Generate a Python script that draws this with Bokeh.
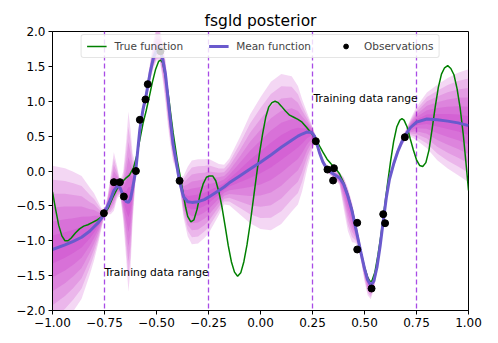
from bokeh.plotting import figure
from bokeh.models import Span, FixedTicker, CustomJSTickFormatter, Range1d
from bokeh.core.properties import value
from bokeh.embed import file_html
from bokeh.resources import INLINE
import numpy as np

# ---------------- data ----------------
obs_x = [-0.753, -0.705, -0.676, -0.657, -0.599, -0.580, -0.553, -0.542, -0.481, -0.389,
         0.266, 0.322, 0.353, 0.349, 0.465, 0.465, 0.534, 0.590, 0.599, 0.694]
obs_y = [-0.605, -0.16, -0.16, -0.366, 0.0, 0.734, 1.025, 1.245, 1.718, -0.141,
         0.427, 0.021, 0.04, -0.136, -0.743, -1.125, -1.685, -0.619, -0.748, 0.485]

true_x = [-1.00, -0.985, -0.97, -0.955, -0.94, -0.925, -0.91, -0.89, -0.87, -0.85, -0.83, -0.81,
          -0.79, -0.77, -0.75, -0.73, -0.71, -0.69, -0.67, -0.65, -0.63, -0.61, -0.595, -0.58,
          -0.565, -0.55, -0.535, -0.52, -0.505, -0.49, -0.48, -0.47, -0.46, -0.45, -0.44, -0.43,
          -0.42, -0.41, -0.40, -0.385, -0.37, -0.36, -0.35, -0.335, -0.32, -0.305, -0.29, -0.275,
          -0.26, -0.245, -0.23, -0.215, -0.20, -0.185, -0.17, -0.155, -0.14, -0.125, -0.11, -0.095,
          -0.08, -0.065, -0.05, -0.035, -0.02, -0.005, 0.01, 0.025, 0.04, 0.055, 0.07, 0.085,
          0.10, 0.12, 0.14, 0.16, 0.18, 0.20, 0.22, 0.24, 0.26, 0.28, 0.30, 0.32, 0.34, 0.36,
          0.38, 0.40, 0.42, 0.44, 0.455, 0.47, 0.485, 0.50, 0.515, 0.525, 0.535, 0.55, 0.565,
          0.58, 0.595, 0.61, 0.625, 0.64, 0.655, 0.67, 0.68, 0.69, 0.705, 0.72, 0.735, 0.75,
          0.765, 0.78, 0.795, 0.81, 0.825, 0.84, 0.855, 0.87, 0.885, 0.90, 0.915, 0.93, 0.945,
          0.96, 0.975, 0.99, 1.00]
true_y = [-0.30, -0.55, -0.78, -0.93, -1.00, -1.00, -0.96, -0.89, -0.83, -0.79, -0.77, -0.74,
          -0.71, -0.67, -0.62, -0.52, -0.38, -0.26, -0.17, -0.11, -0.06, 0.05, 0.22, 0.45,
          0.68, 0.86, 1.06, 1.27, 1.45, 1.57, 1.59, 1.55, 1.40, 1.22, 1.02, 0.78,
          0.55, 0.35, 0.15, -0.09, -0.35, -0.52, -0.65, -0.73, -0.70, -0.55, -0.33, -0.18,
          -0.09, -0.07, -0.07, -0.14, -0.30, -0.52, -0.79, -1.07, -1.30, -1.45, -1.51, -1.46,
          -1.30, -1.06, -0.76, -0.42, -0.08, 0.25, 0.53, 0.77, 0.92, 0.98, 1.00, 0.98,
          0.93, 0.86, 0.80, 0.77, 0.74, 0.70, 0.63, 0.56, 0.48, 0.38, 0.27, 0.17, 0.10, 0.04,
          -0.04, -0.17, -0.34, -0.55, -0.76, -0.98, -1.20, -1.38, -1.52, -1.58, -1.58, -1.45, -1.20,
          -0.90, -0.55, -0.20, 0.13, 0.42, 0.63, 0.73, 0.75, 0.73, 0.63, 0.46, 0.30, 0.16,
          0.08, 0.065, 0.12, 0.30, 0.60, 0.92, 1.20, 1.39, 1.48, 1.51, 1.47, 1.38, 1.18,
          0.90, 0.52, 0.05, -0.28]

mean_x = [-1.00, -0.94, -0.90, -0.86, -0.82, -0.80, -0.78, -0.765, -0.75, -0.735, -0.72, -0.705,
          -0.69, -0.675, -0.66, -0.645, -0.635, -0.625, -0.615, -0.60, -0.59, -0.58, -0.565, -0.55,
          -0.53, -0.515, -0.50, -0.485, -0.47, -0.457, -0.445, -0.433, -0.42, -0.409, -0.39, -0.37,
          -0.35, -0.33, -0.30, -0.27, -0.25, -0.20, -0.175, -0.15, -0.10, -0.05, 0.00, 0.05,
          0.10, 0.15, 0.18, 0.20, 0.225, 0.245, 0.26, 0.27, 0.285, 0.30, 0.32, 0.34, 0.36,
          0.38, 0.40, 0.42, 0.44, 0.455, 0.47, 0.485, 0.50, 0.515, 0.53, 0.545, 0.56, 0.575,
          0.59, 0.605, 0.62, 0.64, 0.66, 0.68, 0.70, 0.72, 0.75, 0.80, 0.85, 0.90, 0.95, 1.00]
mean_y = [-1.125, -1.06, -1.01, -0.95, -0.86, -0.80, -0.74, -0.68, -0.60, -0.50, -0.40, -0.28,
          -0.22, -0.24, -0.36, -0.44, -0.45, -0.40, -0.25, 0.0, 0.30, 0.60, 0.88, 1.08,
          1.42, 1.62, 1.73, 1.74, 1.60, 1.39, 1.05, 0.72, 0.38, 0.20, -0.14, -0.37,
          -0.44, -0.45, -0.44, -0.41, -0.375, -0.28, -0.23, -0.17, -0.07, 0.03, 0.127, 0.23,
          0.34, 0.44, 0.50, 0.53, 0.56, 0.555, 0.50, 0.40, 0.25, 0.13, 0.03, -0.02, -0.06,
          -0.10, -0.19, -0.36, -0.57, -0.78, -0.99, -1.20, -1.40, -1.56, -1.64, -1.58, -1.38, -1.08,
          -0.72, -0.38, -0.12, 0.10, 0.28, 0.42, 0.53, 0.62, 0.70, 0.745, 0.735, 0.715, 0.69, 0.65]
# outer (3-sigma) half-widths of the posterior band, above and below the mean
band_up = [1.20, 1.10, 1.00, 0.88, 0.62, 0.48, 0.30, 0.15, 0.04, 0.15, 0.35, 0.55,
           0.30, 0.10, 0.35, 0.90, 1.30, 1.00, 0.50, 0.10, 0.08, 0.08, 0.10, 0.10,
           0.15, 0.25, 0.35, 0.30, 0.25, 0.20, 0.20, 0.20, 0.18, 0.12, 0.05, 0.30,
           0.50, 0.60, 0.61, 0.58, 0.55, 0.38, 0.32, 0.35, 0.55, 0.78, 0.93, 1.05,
           1.05, 0.92, 0.72, 0.50, 0.27, 0.12, 0.05, 0.04, 0.04, 0.05, 0.05, 0.05, 0.06,
           0.08, 0.10, 0.12, 0.12, 0.10, 0.10, 0.10, 0.08, 0.08, 0.06, 0.05, 0.05, 0.04,
           0.04, 0.04, 0.05, 0.06, 0.06, 0.06, 0.07, 0.12, 0.22, 0.38, 0.50, 0.62, 0.72, 0.81]
band_lo = [1.20, 1.10, 1.00, 0.88, 0.62, 0.48, 0.30, 0.15, 0.04, 0.12, 0.22, 0.29,
           0.18, 0.10, 0.35, 0.85, 1.28, 1.00, 0.50, 0.10, 0.08, 0.08, 0.10, 0.10,
           0.12, 0.15, 0.15, 0.15, 0.30, 0.40, 0.40, 0.35, 0.25, 0.15, 0.05, 0.30,
           0.50, 0.60, 0.60, 0.55, 0.52, 0.35, 0.25, 0.32, 0.55, 0.78, 0.96, 1.08,
           1.10, 1.02, 0.98, 0.82, 0.52, 0.30, 0.10, 0.04, 0.04, 0.05, 0.05, 0.05, 0.06,
           0.10, 0.35, 0.50, 0.45, 0.25, 0.10, 0.12, 0.18, 0.22, 0.20, 0.12, 0.05, 0.04,
           0.04, 0.04, 0.05, 0.06, 0.06, 0.06, 0.07, 0.12, 0.26, 0.42, 0.58, 0.68, 0.75, 0.81]
band_levels = [3.0, 2.5, 2.0, 1.5, 1.0, 0.5]

train_bounds = [-0.75, -0.25, 0.25, 0.75]
label_x = [-0.75, 0.255]
label_y = [-1.45, 1.04]
label_text = ["Training data range", "Training data range"]

x_ticks = [-1.0, -0.75, -0.5, -0.25, 0.0, 0.25, 0.5, 0.75, 1.0]
y_ticks = [-2.0, -1.5, -1.0, -0.5, 0.0, 0.5, 1.0, 1.5, 2.0]

FONT = "DejaVu Sans"

# ---------------- figure ----------------
p = figure(frame_width=416, frame_height=279, output_backend="svg", toolbar_location=None,
           x_range=Range1d(-1.0, 1.0), y_range=Range1d(-2.0, 2.0),
           min_border_left=52, min_border_right=22, min_border_top=31, min_border_bottom=28,
           title="fsgld posterior")
p.title.align = "center"
p.title.text_font = FONT
p.title.text_font_size = "15.5px"
p.title.text_font_style = "normal"
p.title.text_color = "black"
p.title.standoff = 4

p.xgrid.visible = False
p.ygrid.visible = False
p.outline_line_color = "black"
p.outline_line_width = 1
p.background_fill_color = "white"
p.border_fill_color = "white"

for ax, ticks, fmt in ((p.xaxis, x_ticks, 2), (p.yaxis, y_ticks, 1)):
    ax.ticker = FixedTicker(ticks=ticks)
    ax.formatter = CustomJSTickFormatter(
        code="return (tick < 0 ? '\\u2212' : '') + Math.abs(tick).toFixed(%d);" % fmt)
    ax.major_label_text_font = FONT
    ax.major_label_text_font_size = "12px"
    ax.major_label_text_color = "black"
    ax.axis_line_color = "black"
    ax.major_tick_line_color = "black"
    ax.major_tick_out = 4
    ax.major_tick_in = 0
    ax.minor_tick_line_color = None
    ax.major_label_standoff = 3

mx = np.array(mean_x)
my = np.array(mean_y)
su = np.array(band_up)
sl = np.array(band_lo)
top = max(band_levels)
for lev in band_levels:
    f = lev / top
    p.varea(x=mx, y1=my - f * sl, y2=my + f * su, fill_color="#be1ebe", fill_alpha=0.175)

for b in train_bounds:
    p.add_layout(Span(location=b, dimension="height", line_color="#9a2be2",
                      line_alpha=0.85, line_width=1.3, line_dash="5 3", level="underlay"))

p.line(true_x, true_y, line_color="green", line_width=1.5, legend_label="True function")
p.line(mean_x, mean_y, line_color="#6a5acd", line_width=3, legend_label="Mean function")
p.scatter(obs_x, obs_y, size=7, color="black", legend_label="Observations")

p.text(x=label_x, y=label_y, text=label_text, text_font=value(FONT), text_font_size="10.7px",
       text_color="black", text_baseline="middle", text_align="left")

lg = p.legend[0]
lg.location = "top_center"
lg.orientation = "horizontal"
lg.label_text_font = FONT
lg.label_text_font_size = "10.5px"
lg.glyph_width = 20
lg.glyph_height = 12
lg.label_height = 12
lg.label_standoff = 8
lg.spacing = 25
lg.padding = 5
lg.margin = 3
lg.border_line_color = "#cccccc"
lg.border_line_width = 1
lg.background_fill_alpha = 0.8
lg.border_radius = 3

open("out.html", "w").write(file_html(p, INLINE))
